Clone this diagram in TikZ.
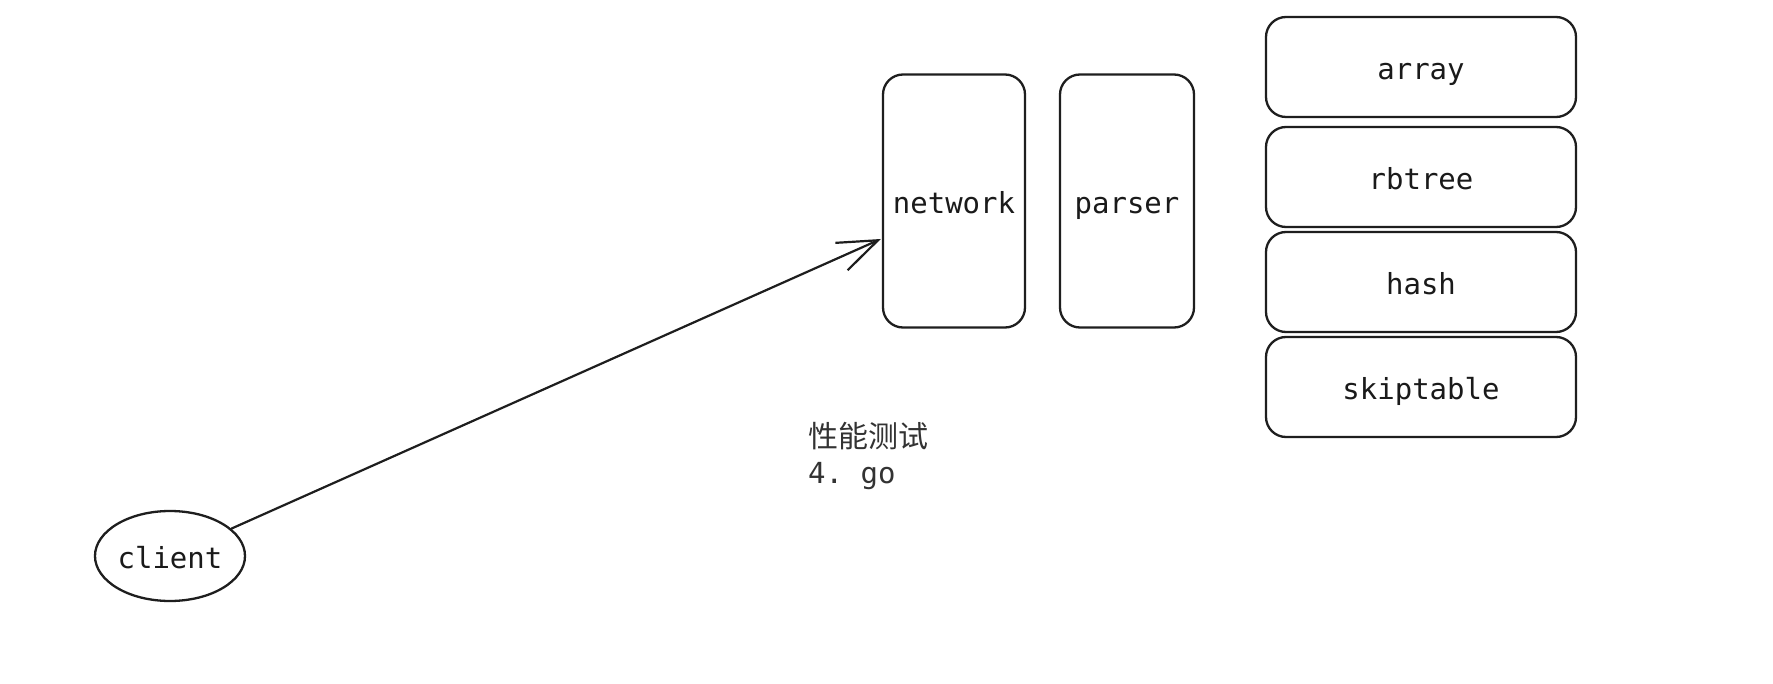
\documentclass[tikz,border=0pt]{standalone}
\usepackage{fontspec}
\setmonofont{DejaVu Sans Mono}
\newfontfamily\cjk{Noto Sans CJK SC}
\usetikzlibrary{arrows.meta,shapes.geometric}
\definecolor{ink}{HTML}{1E1E1E}
\definecolor{txt}{HTML}{1A1A1A}
\definecolor{note}{HTML}{333333}
\tikzset{
  lbl/.style={font=\ttfamily\fontsize{29}{32}\selectfont, text=txt, text height=28pt, text depth=3pt},
  box/.style={draw=ink, line width=2.3pt, rounded corners=20pt, inner sep=0pt, lbl},
  tall/.style={box, minimum height=253pt},
  wide/.style={box, minimum width=310pt, minimum height=100pt},
  oval/.style={draw=ink, line width=2.3pt, ellipse, minimum width=150pt, minimum height=90pt, inner sep=0pt, lbl},
  arr/.style={draw=ink, line width=2.2pt, line cap=round, -{Straight Barb[length=40pt,width=30pt,line width=2.2pt]}},
  notetxt/.style={anchor=base west, inner sep=0pt, text=note}
}
\begin{document}
\begin{tikzpicture}[x=1pt,y=-1pt]
\useasboundingbox[fill=white] (0,0) rectangle (1773,684);
\node[tall, minimum width=142pt] (net) at (954,201) {network};
\node[tall, minimum width=134pt] (par) at (1127,201) {parser};
\node[wide] (arr) at (1421,67) {array};
\node[wide] (rbt) at (1421,177) {rbtree};
\node[wide] (hsh) at (1421,282) {hash};
\node[wide] (skp) at (1421,387) {skiptable};
\node[oval] (cl) at (170,556) {client};
\draw[arr] (cl) -- ([xshift=-1pt,yshift=-38pt]net.west);
\node[notetxt, font=\cjk\fontsize{30}{32}\selectfont] (perf) at (808,447) {性能测试};
\node[notetxt, font=\ttfamily\fontsize{29}{32}\selectfont] (go) at (808,483) {4. go};
\end{tikzpicture}
\end{document}
